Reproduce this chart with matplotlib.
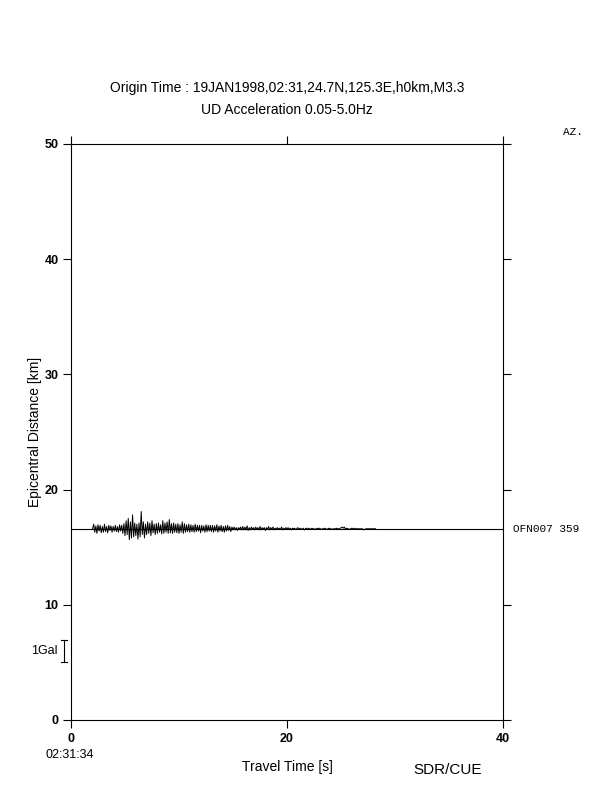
import numpy as np
import matplotlib
matplotlib.use('Agg')
import matplotlib.pyplot as plt

# Station trace: epicentral distance, start time, sample step and offsets (km on the plot)
station = 'OFN007 359'
distance = 16.6
t_start = 2.0
dt = 0.1
trace = [
    0.0, 0.4, -0.3, 0.25, -0.4, 0.35, -0.2, 0.3, -0.35, 0.2,
    -0.3, 0.4, -0.25, 0.2, -0.35, 0.3, -0.15, 0.25, -0.3, 0.2,
    -0.2, 0.3, -0.25, 0.2, -0.3, 0.35, -0.2, 0.3, -0.4, 0.45,
    -0.6, 0.7, -0.5, 0.9, -0.95, 0.6, -0.8, 1.2, -0.7, 0.5,
    -0.6, 0.4, -0.9, 0.5, -0.7, 1.5, -0.5, 0.6, -0.8, 0.4,
    -0.5, 0.6, -0.4, 0.5, -0.6, 0.7, -0.35, 0.4, -0.5, 0.45,
    -0.4, 0.5, -0.3, 0.35, -0.45, 0.7, -0.4, 0.5, -0.3, 0.6,
    -0.4, 0.8, -0.35, 0.45, -0.4, 0.5, -0.3, 0.4, -0.35, 0.45,
    -0.4, 0.35, -0.3, 0.6, -0.4, 0.45, -0.3, 0.35, -0.25, 0.4,
    -0.3, 0.35, -0.25, 0.3, -0.3, 0.4, -0.25, 0.3, -0.2, 0.3,
    -0.35, 0.3, -0.2, 0.25, -0.3, 0.35, -0.25, 0.3, -0.2, 0.3,
    -0.25, 0.3, -0.3, 0.25, -0.2, 0.35, -0.3, 0.25, -0.2, 0.3,
    -0.25, 0.2, -0.3, 0.25, -0.2, 0.3, -0.15, 0.2, -0.25, 0.15,
    -0.1, 0.15, -0.1, 0.1, -0.15, 0.1, -0.05, 0.15, -0.1, 0.2,
    -0.1, 0.15, -0.1, 0.25, -0.15, 0.1, -0.1, 0.15, -0.05, 0.1,
    -0.1, 0.15, -0.05, 0.1, -0.1, 0.2, -0.1, 0.1, -0.05, 0.1,
    -0.15, 0.1, -0.05, 0.2, -0.1, 0.1, -0.05, 0.15, -0.1, 0.05,
    -0.05, 0.1, -0.05, 0.05, -0.05, 0.15, -0.1, 0.05, -0.05, 0.1,
    -0.05, 0.1, -0.05, 0.05, -0.1, 0.05, 0.0, 0.05, -0.05, 0.0,
    0.1, -0.05, 0.05, 0.0, -0.05, 0.05, -0.1, 0.0, 0.05, -0.05,
    0.05, 0.0, -0.05, 0.05, 0.0, 0.0, -0.05, 0.0, 0.05, 0.0,
    0.05, 0.0, -0.05, 0.0, 0.0, 0.05, 0.0, -0.05, 0.0, 0.05,
    0.0, 0.0, -0.05, 0.0, 0.0, 0.0, 0.05, 0.0, 0.0, 0.0,
    0.1, 0.15, 0.05, 0.15, 0.0, 0.05, 0.0, 0.0, -0.05, 0.0,
    0.05, 0.0, 0.0, 0.05, 0.0, 0.0, 0.0, 0.0, 0.0, 0.0,
    0.0, -0.1, -0.05, 0.0, 0.0, 0.0, 0.0, 0.0, 0.0, 0.0,
    0.0, 0.0, 0.0,
]
x_ticks = [0, 20, 40]
y_ticks = [0, 10, 20, 30, 40, 50]
gal_bar = (5.05, 6.95)  # 1 Gal scale bar in km units

t = t_start + np.arange(len(trace)) * dt
y = distance + np.array(trace)

plt.rcParams['font.family'] = ['Liberation Sans', 'DejaVu Sans']

fig = plt.figure(figsize=(6.12, 7.92), dpi=100)
ax = fig.add_axes([71 / 612, 1 - 720 / 792, 432 / 612, 576 / 792])

ax.axhline(distance, color='black', lw=0.8)
ax.plot(t, y, color='black', lw=0.7)

ax.set_xlim(0, 40)
ax.set_ylim(0, 50)
ax.set_xticks(x_ticks)
ax.set_yticks(y_ticks)
ax.tick_params(direction='out', length=6, width=0.8, labelsize=9, pad=3,
               top=True, right=True, labeltop=False, labelright=False)
for lbl in ax.get_xticklabels() + ax.get_yticklabels():
    lbl.set_fontweight('bold')
for s in ax.spines.values():
    s.set_linewidth(0.8)

ax.set_xlabel('Travel Time [s]', fontsize=10, labelpad=11)
ax.set_ylabel('Epicentral Distance [km]', fontsize=10, labelpad=2)

fig.text(287 / 612, 1 - 88 / 792, 'Origin Time : 19JAN1998,02:31,24.7N,125.3E,h0km,M3.3',
         ha='center', va='center', fontsize=10)
fig.text(287 / 612, 1 - 110 / 792, 'UD Acceleration 0.05-5.0Hz',
         ha='center', va='center', fontsize=10)
fig.text(563 / 612, 1 - 132 / 792, 'AZ.', ha='left', va='center',
         fontsize=8, family='Liberation Mono')
ax.text(1.024, distance, station, transform=ax.get_yaxis_transform(),
        ha='left', va='center', fontsize=8, family='Liberation Mono')

# 1 Gal scale bar
ax.plot([-0.65, -0.65], gal_bar, color='black', lw=0.8, clip_on=False)
ax.plot([-0.9, -0.4], [gal_bar[0]] * 2, color='black', lw=0.8, clip_on=False)
ax.plot([-0.9, -0.4], [gal_bar[1]] * 2, color='black', lw=0.8, clip_on=False)
ax.text(-1.2, sum(gal_bar) / 2, '1Gal', ha='right', va='center', fontsize=9)

fig.text(70 / 612, 1 - 755 / 792, '02:31:34', ha='center', va='center', fontsize=9)
fig.text(448 / 612, 1 - 770 / 792, 'SDR/CUE', ha='center', va='center', fontsize=11)

fig.savefig('out.png', dpi=100)
